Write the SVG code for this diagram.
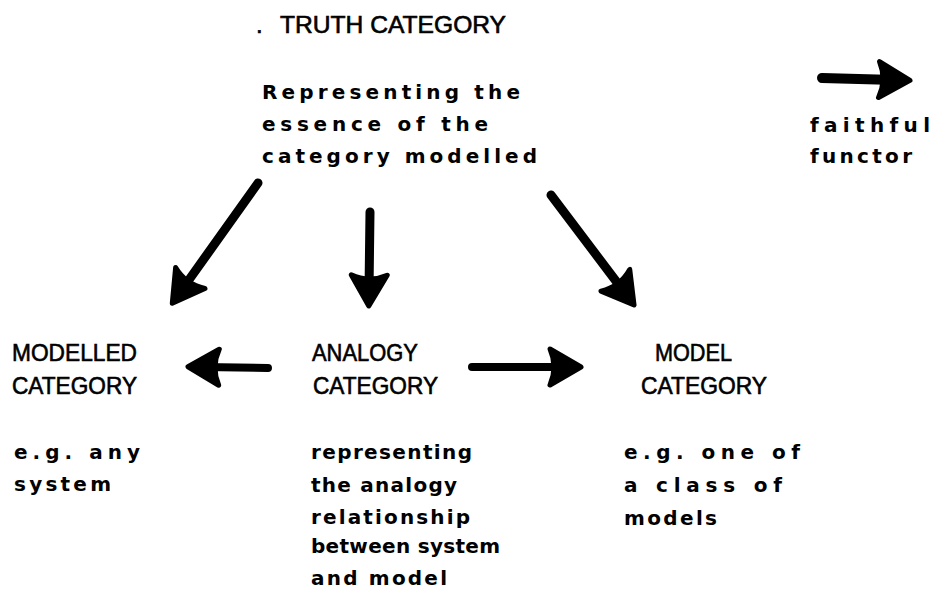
<svg xmlns="http://www.w3.org/2000/svg" width="935" height="593" viewBox="0 0 935 593">
<style>
.h{font-family:"Liberation Sans",Arial,sans-serif;font-size:24px;fill:#000;stroke:#000;stroke-width:0.6}
.b{font-family:"DejaVu Sans","Liberation Sans",sans-serif;font-weight:bold;font-size:20px;fill:#000}
.sh{fill:none;stroke:#000;stroke-linecap:round}
</style>
<defs>
<marker id="hd" viewBox="-22 -24 42 48" refX="0" refY="0" markerWidth="42" markerHeight="48" markerUnits="userSpaceOnUse" orient="auto">
<path d="M 15 0 L -16 -18 Q -8 0 -16 18 Z" fill="#000" stroke="#000" stroke-width="5" stroke-linejoin="round"/>
</marker>
</defs>
<rect width="935" height="593" fill="#fff"/>
<g id="truth">
<text class="h" x="256" y="33">.</text>
<text class="h" x="280" y="33" textLength="226" lengthAdjust="spacingAndGlyphs">TRUTH CATEGORY</text>
<text class="b" x="262" y="99" textLength="258" lengthAdjust="spacing">Representing the</text>
<text class="b" x="262" y="131" textLength="226" lengthAdjust="spacing">essence of the</text>
<text class="b" x="262" y="163" textLength="275" lengthAdjust="spacing">category modelled</text>
</g>
<g id="legend">
<text class="b" x="810" y="132" textLength="120" lengthAdjust="spacing">faithful</text>
<text class="b" x="810" y="163" textLength="102" lengthAdjust="spacing">functor</text>
</g>
<g id="modelled">
<text class="h" x="12" y="361" textLength="125" lengthAdjust="spacingAndGlyphs">MODELLED</text>
<text class="h" x="12" y="394" textLength="125" lengthAdjust="spacingAndGlyphs">CATEGORY</text>
<text class="b" x="14" y="459" textLength="126" lengthAdjust="spacing">e.g. any</text>
<text class="b" x="14" y="491" textLength="97" lengthAdjust="spacing">system</text>
</g>
<g id="analogy">
<text class="h" x="312" y="361" textLength="106" lengthAdjust="spacingAndGlyphs">ANALOGY</text>
<text class="h" x="313" y="394" textLength="125" lengthAdjust="spacingAndGlyphs">CATEGORY</text>
<text class="b" x="311" y="459" textLength="161" lengthAdjust="spacing">representing</text>
<text class="b" x="311" y="492" textLength="146" lengthAdjust="spacing">the analogy</text>
<text class="b" x="311" y="524" textLength="159" lengthAdjust="spacing">relationship</text>
<text class="b" x="311" y="553" textLength="189" lengthAdjust="spacing">between system</text>
<text class="b" x="311" y="585" textLength="136" lengthAdjust="spacing">and model</text>
</g>
<g id="model">
<text class="h" x="655" y="361" textLength="77" lengthAdjust="spacingAndGlyphs">MODEL</text>
<text class="h" x="641" y="394" textLength="126" lengthAdjust="spacingAndGlyphs">CATEGORY</text>
<text class="b" x="624" y="459" textLength="176" lengthAdjust="spacing">e.g. one of</text>
<text class="b" x="624" y="492" textLength="158" lengthAdjust="spacing">a class of</text>
<text class="b" x="624" y="525" textLength="93" lengthAdjust="spacing">models</text>
</g>
<g id="connectors">
<line class="sh" x1="258" y1="183" x2="181" y2="291" stroke-width="9" marker-end="url(#hd)"/>
<line class="sh" x1="370" y1="212" x2="369" y2="291" stroke-width="9" marker-end="url(#hd)"/>
<line class="sh" x1="551" y1="195" x2="625" y2="293" stroke-width="9" marker-end="url(#hd)"/>
<line class="sh" x1="268" y1="368" x2="203" y2="367" stroke-width="8" marker-end="url(#hd)"/>
<line class="sh" x1="472" y1="367" x2="566" y2="367" stroke-width="8" marker-end="url(#hd)"/>
<line class="sh" x1="822" y1="78" x2="895" y2="80" stroke-width="10" marker-end="url(#hd)"/>
</g>
</svg>
